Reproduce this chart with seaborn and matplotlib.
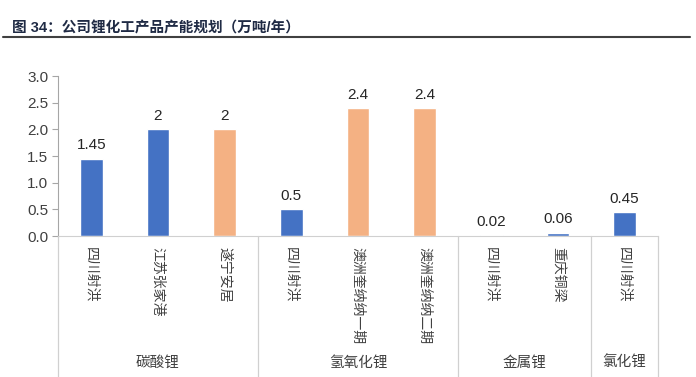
import matplotlib
matplotlib.use('Agg')
import matplotlib.pyplot as plt
import seaborn as sns
import pandas as pd

# data
sites = ['四川射洪', '江苏张家港', '遂宁安居', '四川射洪', '澳洲奎纳纳一期',
         '澳洲奎纳纳二期', '四川射洪', '重庆铜梁', '四川射洪']
capacity = [1.45, 2, 2, 0.5, 2.4, 2.4, 0.02, 0.06, 0.45]
value_labels = ['1.45', '2', '2', '0.5', '2.4', '2.4', '0.02', '0.06', '0.45']
status = ['a', 'a', 'b', 'a', 'b', 'b', 'a', 'a', 'a']
groups = ['碳酸锂', '氢氧化锂', '金属锂', '氯化锂']
group_sizes = [3, 3, 2, 1]
y_ticks = [0.0, 0.5, 1.0, 1.5, 2.0, 2.5, 3.0]

sns.set_style('white')
plt.rcParams['font.family'] = ['Liberation Sans', 'Noto Sans CJK SC']

df = pd.DataFrame({'pos': range(len(sites)), 'cap': capacity, 'status': status})

fig = plt.figure(figsize=(6.96, 3.77), dpi=100)
ax = fig.add_axes([58 / 696, 1 - 236 / 377, 600 / 696, 160 / 377])

sns.barplot(data=df, x='pos', y='cap', hue='status',
            palette={'a': '#4472C4', 'b': '#F4B183'}, saturation=1,
            dodge=False, width=0.34, legend=False, ax=ax)

for i, (v, lab) in enumerate(zip(capacity, value_labels)):
    ax.text(i, v + 0.12, lab, ha='center', va='bottom', fontsize=11, color='#262626')

ax.set_xlim(-0.5, len(sites) - 0.5)
ax.set_ylim(0, 3.0)
ax.set_yticks(y_ticks)
ax.set_yticklabels([f'{t:.1f}' for t in y_ticks], fontsize=11, color='#404040')
ax.set_xticks(range(len(sites)))
ax.set_xticklabels(sites, rotation=-90, fontsize=10, color='#404040', va='top')
ax.tick_params(axis='x', length=0, pad=8)
ax.tick_params(axis='y', length=4, width=0.8, color='#a6a6a6', left=True, pad=3)
ax.set_xlabel('')
ax.set_ylabel('')
for s in ['top', 'right']:
    ax.spines[s].set_visible(False)
ax.spines['left'].set_color('#a6a6a6')
ax.spines['bottom'].set_color('#d0d0d0')
ax.spines['left'].set_linewidth(0.8)
ax.spines['bottom'].set_linewidth(0.8)

# group separators and group labels
trans = ax.get_xaxis_transform()
edge = -0.5
bounds = [edge]
for n in group_sizes:
    edge += n
    bounds.append(edge)
for b in bounds:
    ax.plot([b, b], [0, -0.88], transform=trans, color='#d0d0d0', lw=0.9, clip_on=False)
for g, lo, hi in zip(groups, bounds[:-1], bounds[1:]):
    ax.text((lo + hi) / 2, -0.79, g, transform=trans, ha='center', va='center',
            fontsize=10.5, color='#404040')

# title and rule
fig.text(12 / 696, 1 - 28 / 377, '图 34：公司锂化工产品产能规划（万吨/年）', fontsize=10.5,
         fontweight='bold', color='#1f2a44', va='center', ha='left')
fig.add_artist(plt.Line2D([3 / 696, 690 / 696], [1 - 37 / 377, 1 - 37 / 377],
                          color='#404040', lw=1.5))

fig.savefig('out.png', dpi=100)
